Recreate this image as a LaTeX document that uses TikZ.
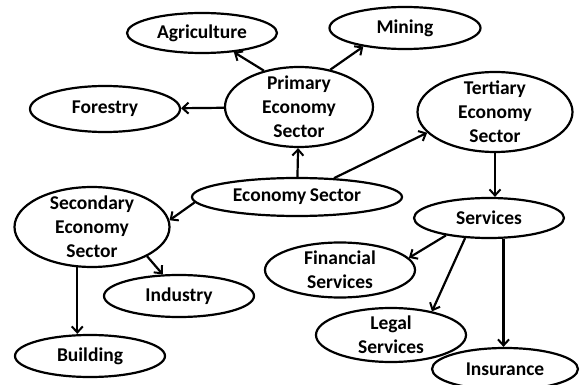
\documentclass[tikz,border=0pt]{standalone}
\usepackage{fontspec}
\setmainfont{Carlito}
\usetikzlibrary{shapes.geometric,arrows.meta}
\tikzset{
  ell/.style 2 args={draw, line width=2.2pt, shape=ellipse, inner sep=0pt,
    minimum width=#1pt, minimum height=#2pt},
  txt/.style={font=\bfseries\fontsize{19.5}{24}\selectfont, align=center, inner sep=0pt},
  arr/.style={line width=2.2pt, -{Straight Barb[length=6pt,width=11pt,line width=2pt]}},
}
\begin{document}
\begin{tikzpicture}[x=1pt,y=-1pt]
\useasboundingbox (0,0) rectangle (584,385);
\node[ell={150}{40}] (agr) at (202,33) {};
\node[txt] (agrt) at (agr) {Agriculture};
\node[ell={151}{42}] (min) at (405,28) {};
\node[txt] (mint) at (min) {Mining};
\node[ell={150}{46}] (for) at (105,109) {};
\node[txt] (fort) at (for) {Forestry};
\node[ell={148}{80}] (prim) at (299,107) {};
\node[txt] (primt) at (prim) {Primary\\Economy\\Sector};
\node[ell={155}{80}] (ter) at (495,112) {};
\node[txt] (tert) at (ter) {Tertiary\\Economy\\Sector};
\node[ell={210}{38}] (eco) at (297,197) {};
\node[txt] (ecot) at (eco) {Economy\kern-1pt\ Sector};
\node[ell={155}{80}] (sec) at (92,227) {};
\node[txt] (sect) at (sec) {Secondary\\Economy\\Sector};
\node[ell={150}{40}] (serv) at (489,218) {};
\node[txt] (servt) at (serv) {Services};
\node[ell={150}{55}] (fin) at (340,270) {};
\node[txt] (fint) at (fin) {Financial\\Services};
\node[ell={150}{42}] (ind) at (179,296) {};
\node[txt] (indt) at (ind) {Industry};
\node[ell={150}{54}] (leg) at (391,335) {};
\node[txt] (legt) at (leg) {Legal\\Services};
\node[ell={150}{42}] (bld) at (90,356) {};
\node[txt] (bldt) at (bld) {Building};
\node[ell={146}{42}] (ins) at (505,369) {};
\node[txt] (inst) at (ins) {Insurance};

\draw[arr] (prim.134) -- (agr.329);
\draw[arr] (prim.50.5) -- (min.204);
\draw[arr] (prim) -- (for);
\draw[arr] (eco) -- (prim);
\draw[arr] (eco.27) -- (ter.197);
\draw[arr] (eco.183.3) -- (sec.5.3);
\draw[arr] (sec.332) -- (ind.127);
\draw[arr] (sec.250) -- (sec.250 |- bld.north);
\draw[arr] (ter.south) -- (ter.south |- serv.north);
\draw[arr] (serv.202) -- (fin.10);
\draw[arr] (serv.220) -- (leg.30.8);
\draw[arr] (serv.305.5) -- (serv.305.5 |- ins.north);
\end{tikzpicture}
\end{document}
